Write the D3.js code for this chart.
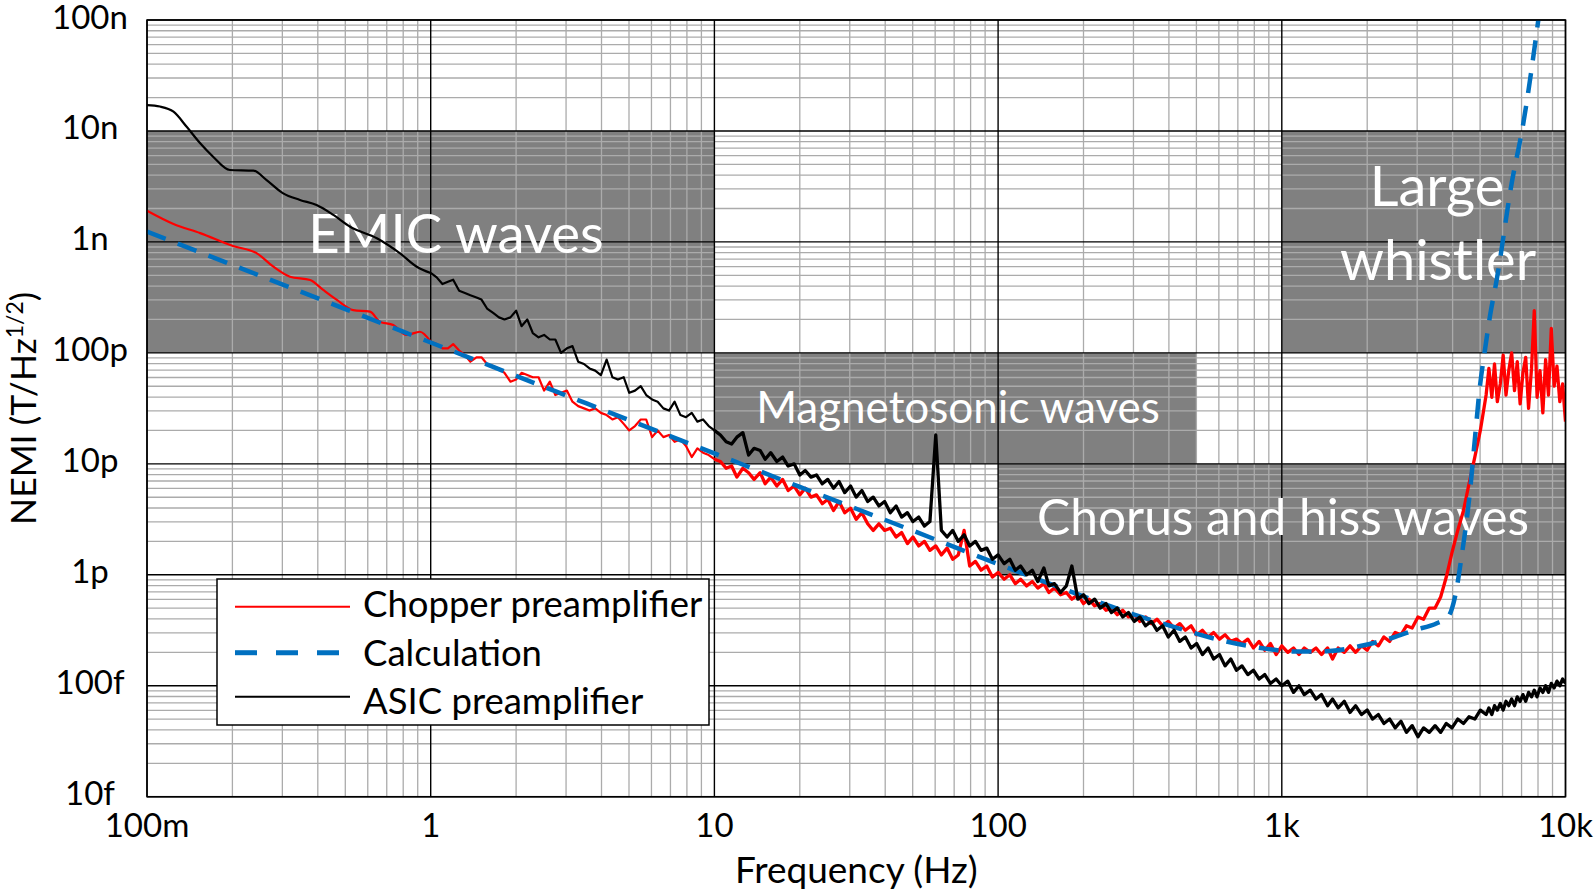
<!DOCTYPE html>
<html><head><meta charset="utf-8">
<script src="https://cdn.jsdelivr.net/npm/d3@7/dist/d3.min.js"></script>
<style>
body{margin:0;background:#fff;}
text{font-family:Lato,"Open Sans",sans-serif;}
</style>
</head><body>
<svg id="c" width="1595" height="890"></svg>
<script>
// ---------- data (NEMI values in pT/Hz^1/2, frequencies in Hz) ----------
const xTickValues=[0.1,1,10,100,1000,10000];
const xTickLabels=["100m","1","10","100","1k","10k"];
const yTickValues=[0.01,0.1,1,10,100,1000,10000,100000];
const yTickLabels=["10f","100f","1p","10p","100p","1n","10n","100n"];

const regionNames=["EMIC waves","Magnetosonic waves","Chorus and hiss waves","Large whistler"];
const regionFreqLow=[0.1,10,100,1000];
const regionFreqHigh=[10,500,10000,10000];
const regionNemiLow=[100,10,1,100];
const regionNemiHigh=[10000,100,10,10000];

const seriesNames=["Chopper preamplifier","Calculation","ASIC preamplifier"];

// low-frequency parts (0.1 - 1 Hz)
const chopperLowFreq=[0.1,0.124,0.154,0.201,0.244,0.279,0.319,0.376,0.418,0.467,0.533,0.611,0.662,0.738,0.822,0.916];
const chopperLowVal=[1910,1450,1200,918,789,598,486,454,369,300,243,235,191,178,145,155];
const asicLowFreq=[0.1,0.111,0.124,0.138,0.154,0.171,0.196,0.237,0.264,0.302,0.346,0.396,0.454,0.52,0.646,0.78,0.893];
const asicLowVal=[17100,16600,14900,10900,7740,5860,4450,4390,3610,2740,2390,2150,1750,1370,1080,789,598];

// measured spectra, 1 Hz - 10 kHz
const specFreq=[1,1.05,1.1,1.15,1.2,1.26,1.32,1.38,1.45,1.51,1.58,1.66,1.74,1.82,1.91,2,2.09,2.19,2.29,2.4,2.51,2.63,2.75,2.88,3.02,3.16,3.31,3.47,3.63,3.8,3.98,4.17,4.37,4.57,4.79,5.01,5.25,5.5,5.75,6.03,6.31,6.61,6.92,7.24,7.59,7.94,8.32,8.71,9.12,9.55,
10,10.5,11,11.5,12,12.6,13.2,13.8,14.5,15.1,15.8,16.6,17.4,18.2,19.1,20,20.9,21.9,22.9,24,25.1,26.3,27.5,28.8,30.2,31.6,33.1,34.7,36.3,38,39.8,41.7,43.7,45.7,47.9,50.1,52.5,55,57.5,60.3,63.1,66.1,69.2,72.4,75.9,79.4,83.2,87.1,91.2,95.5,
100,105,110,115,120,126,132,138,145,151,158,166,174,182,191,200,209,219,229,240,251,263,275,288,302,316,331,347,363,380,398,417,437,457,479,501,525,550,575,603,631,661,692,724,759,794,832,871,912,955,
1000,1050,1100,1150,1200,1260,1320,1380,1450,1510,1580,1660,1740,1820,1910,2000,2090,2190,2290,2400,2510,2630,2750,2880,3020,3160,3310,3470,3630,3800,3980,4170,4370,4570,4790,5010,5250,
5370,5500,5620,5750,5890,6030,6170,6310,6460,6610,6760,6920,7080,7240,7410,7590,7760,7940,8130,8320,8510,8710,8910,9120,9330,9550,9770,10000];

const chopperVal=[126,120,110,110,120,105,95.5,83.2,91.2,91.2,79.4,75.9,72.4,66.1,55,57.5,66.1,63.1,60.3,60.3,45.7,55,41.7,43.7,45.7,36.3,33.1,31.6,30.2,31.6,28.8,27.5,25.1,26.3,22.9,20,21.9,25.1,25.1,17.4,20,17.4,18.2,15.8,16.6,14.5,11.5,13.8,12.6,12,
11,10.5,9.12,9.55,7.59,9.12,8.32,7.24,8.32,6.61,7.59,6.31,7.24,5.75,6.31,5.25,6.03,5.01,5.25,4.37,4.79,3.8,4.57,3.63,3.98,3.16,3.63,2.88,2.51,2.88,2.51,2.63,2.19,2.4,1.91,2.19,1.82,2,1.66,1.82,1.51,1.74,1.38,1.51,2.51,1.2,1.32,1.1,1.2,0.955,
1.05,0.912,1,0.832,0.912,0.794,0.871,0.759,0.832,0.692,0.759,0.661,0.692,0.603,0.661,0.55,0.603,0.525,0.55,0.479,0.501,0.437,0.479,0.417,0.437,0.38,0.417,0.363,0.398,0.347,0.38,0.331,0.363,0.316,0.347,0.288,0.316,0.275,0.302,0.263,0.288,0.251,0.263,0.24,0.263,0.219,0.251,0.209,0.24,0.191,
0.229,0.2,0.219,0.191,0.219,0.2,0.219,0.191,0.219,0.174,0.219,0.2,0.229,0.2,0.229,0.209,0.251,0.229,0.275,0.251,0.302,0.288,0.347,0.331,0.417,0.398,0.501,0.501,0.631,0.955,1.58,2.51,3.8,6.61,11.5,20,41.7,
72.4,39.8,79.4,36.3,52.5,95.5,41.7,69.2,100,45.7,83.2,34.7,66.1,91.2,31.6,72.4,240,39.8,69.2,28.8,87.1,41.7,166,50.1,75.9,36.3,52.5,24];

const asicVal=[525,479,417,437,457,363,347,331,316,302,251,229,209,200,209,240,174,200,151,138,145,132,132,100,110,115,83.2,79.4,72.4,69.2,63.1,87.1,60.3,57.5,60.3,43.7,45.7,50.1,41.7,38,36.3,31.6,30.2,36.3,27.5,26.3,28.8,24,25.1,21.9,
20,18.2,15.8,15.1,17.4,19.1,12,13.8,13.2,11,12.6,10.5,11.5,9.55,10,7.94,8.71,7.59,7.94,6.61,7.24,6.03,6.92,5.5,6.31,5.01,5.75,4.57,5.01,4.17,4.57,3.63,4.17,3.31,3.63,3.02,3.31,2.75,3.02,18.2,2.51,2.19,2.51,2,2.29,1.82,2,1.66,1.74,1.38,
1.51,1.26,1.38,1.1,1.2,1,1.1,0.871,1.15,0.794,0.832,0.692,0.794,1.2,0.603,0.661,0.55,0.603,0.501,0.55,0.457,0.501,0.417,0.457,0.38,0.417,0.347,0.38,0.316,0.347,0.275,0.316,0.251,0.275,0.219,0.24,0.191,0.219,0.174,0.191,0.151,0.174,0.138,0.151,0.126,0.138,0.115,0.126,0.105,0.115,
0.1,0.11,0.0871,0.1,0.0832,0.0912,0.0759,0.0832,0.0661,0.0759,0.0631,0.0724,0.0575,0.0661,0.055,0.0603,0.0501,0.055,0.0457,0.0501,0.0417,0.0479,0.038,0.0437,0.0347,0.0417,0.038,0.0437,0.038,0.0457,0.0417,0.0501,0.0457,0.0525,0.0501,0.0603,0.055,
0.0631,0.055,0.0661,0.0603,0.0692,0.0603,0.0724,0.0661,0.0759,0.0661,0.0794,0.0724,0.0832,0.0724,0.0871,0.0794,0.0912,0.0794,0.0955,0.0871,0.1,0.0871,0.105,0.0955,0.11,0.1,0.115,0.105];

// calculated NEMI
const calcFreq=[0.1,0.2,0.5,1,2,5,10,20,50,100,150,200,300,400,600,885,1100,1440,1890,2470,2910,3520,3860,4070,4320,4600,4800,4990,5200,5410,5720,6460,7100,8020];
const calcVal=[1240,620,248,124,62,24.8,12.4,6.2,2.5,1.25,0.84,0.64,0.44,0.35,0.26,0.215,0.203,0.205,0.228,0.272,0.315,0.366,0.419,0.618,1.57,5.46,17.5,49.2,106,210,454,3370,11700,100000];

// ---------- drawing ----------
const svg=d3.select("#c");
const L=147,R=1565.5,T=20,B=796.7;
const x=d3.scaleLog().domain([0.1,10000]).range([L,R]);
const y=d3.scaleLog().domain([0.01,100000]).range([B,T]);

function zip(fs,vs){const n=Math.min(fs.length,vs.length);const o=[];for(let i=0;i<n;i++)o.push([fs[i],vs[i]]);return o;}
const chopperLow=zip(chopperLowFreq,chopperLowVal), asicLow=zip(asicLowFreq,asicLowVal);
const chopperSpec=zip(specFreq,chopperVal), asicSpec=zip(specFreq,asicVal);
const calc=zip(calcFreq,calcVal);

svg.append("rect").attr("width",1595).attr("height",890).attr("fill","#fff");

// shaded wave regions
const regions=regionNames.map((n,i)=>({name:n,f0:regionFreqLow[i],f1:regionFreqHigh[i],v0:regionNemiLow[i],v1:regionNemiHigh[i]}));
svg.append("g").selectAll("rect").data(regions).join("rect")
  .attr("x",d=>x(d.f0)).attr("y",d=>y(d.v1))
  .attr("width",d=>x(d.f1)-x(d.f0)).attr("height",d=>y(d.v0)-y(d.v1))
  .attr("fill","#808080");

// grid
const isMajor=v=>Math.abs(Math.log10(v)-Math.round(Math.log10(v)))<1e-6;
const xt=x.ticks(), yt=y.ticks();
const grid=svg.append("g");
grid.selectAll("line.xm").data(xt.filter(v=>!isMajor(v))).join("line")
  .attr("x1",d=>x(d)).attr("x2",d=>x(d)).attr("y1",T).attr("y2",B)
  .attr("stroke","#ababab").attr("stroke-width",1.3);
grid.selectAll("line.ym").data(yt.filter(v=>!isMajor(v))).join("line")
  .attr("y1",d=>y(d)).attr("y2",d=>y(d)).attr("x1",L).attr("x2",R)
  .attr("stroke","#ababab").attr("stroke-width",1.3);
grid.selectAll("line.xM").data(xTickValues).join("line")
  .attr("x1",d=>x(d)).attr("x2",d=>x(d)).attr("y1",T).attr("y2",B)
  .attr("stroke","#000").attr("stroke-width",1.4);
grid.selectAll("line.yM").data(yTickValues).join("line")
  .attr("y1",d=>y(d)).attr("y2",d=>y(d)).attr("x1",L).attr("x2",R)
  .attr("stroke","#000").attr("stroke-width",1.4);

// region labels (white, above grid)
const lab=svg.append("g").attr("fill","#fff");
lab.append("text").attr("x",456).attr("y",253).attr("text-anchor","middle").attr("font-size",54.5).text(regionNames[0]);
lab.append("text").attr("x",958).attr("y",423).attr("text-anchor","middle").attr("font-size",44).text(regionNames[1]);
lab.append("text").attr("x",1283).attr("y",535).attr("text-anchor","middle").attr("font-size",49.7).text(regionNames[2]);
const lw=regionNames[3].split(" ");
lab.append("text").attr("x",1437).attr("y",206).attr("text-anchor","middle").attr("font-size",56).text(lw[0]);
lab.append("text").attr("x",1438).attr("y",280).attr("text-anchor","middle").attr("font-size",56).text(lw[1]);

// clip
svg.append("clipPath").attr("id","pc").append("rect").attr("x",L).attr("y",T).attr("width",R-L).attr("height",B-T);

const smooth=d3.line().x(d=>x(d[0])).y(d=>y(d[1])).curve(d3.curveMonotoneX);
const raw=d3.line().x(d=>x(d[0])).y(d=>y(d[1]));
const lines=svg.append("g").attr("clip-path","url(#pc)").attr("fill","none").attr("stroke-linejoin","round");
function drawSeries(low,spec,color){
  lines.append("path").datum(low.concat([spec[0]])).attr("d",smooth).attr("stroke",color).attr("stroke-width",2.2);
  lines.append("path").datum(spec.filter(d=>d[0]<=10)).attr("d",raw).attr("stroke",color).attr("stroke-width",2.2);
  lines.append("path").datum(spec.filter(d=>d[0]>=10)).attr("d",raw).attr("stroke",color).attr("stroke-width",3.3);
}
drawSeries(chopperLow,chopperSpec,"#ff0000");
lines.append("path").datum(calc).attr("d",smooth).attr("stroke","#0070c0").attr("stroke-width",4.5).attr("stroke-dasharray","20,13");
drawSeries(asicLow,asicSpec,"#000");

// frame
svg.append("rect").attr("x",L).attr("y",T).attr("width",R-L).attr("height",B-T).attr("fill","none").attr("stroke","#000").attr("stroke-width",1.5);

// axes labels
const ax=svg.append("g").attr("fill","#000").attr("font-size",33);
ax.selectAll("text.xl").data(xTickValues).join("text")
  .attr("x",d=>x(d)).attr("y",837).attr("text-anchor","middle").text((d,i)=>xTickLabels[i]);
ax.selectAll("text.yl").data(yTickValues).join("text")
  .attr("x",90).attr("y",d=>y(d)+8.5).attr("text-anchor","middle").text((d,i)=>yTickLabels[i]);

svg.append("text").attr("x",(L+R)/2).attr("y",883).attr("text-anchor","middle").attr("font-size",37).text("Frequency (Hz)");
const yt2=svg.append("text").attr("transform",`translate(36,${(T+B)/2}) rotate(-90)`).attr("text-anchor","middle").attr("font-size",35.5);
yt2.append("tspan").text("NEMI (T/Hz");
yt2.append("tspan").attr("font-size",23).attr("dy",-13).text("1/2");
yt2.append("tspan").attr("dy",13).text(")");

// legend
const lg=svg.append("g");
lg.append("rect").attr("x",217).attr("y",579).attr("width",492).attr("height",146).attr("fill","#fff").attr("stroke","#000").attr("stroke-width",1.5);
const ly=[606.7,652.7,696.7], lb=[617,666,714];
const lcol=["#ff0000","#0070c0","#000"], lwid=[2,5,2], ldash=[null,"22,19",null];
seriesNames.forEach((n,i)=>{
  lg.append("line").attr("x1",235).attr("x2",350).attr("y1",ly[i]).attr("y2",ly[i]).attr("stroke",lcol[i]).attr("stroke-width",lwid[i]).attr("stroke-dasharray",ldash[i]);
  lg.append("text").attr("x",363).attr("y",lb[i]).attr("font-size",36.5).text(n);
});
</script>
</body></html>
